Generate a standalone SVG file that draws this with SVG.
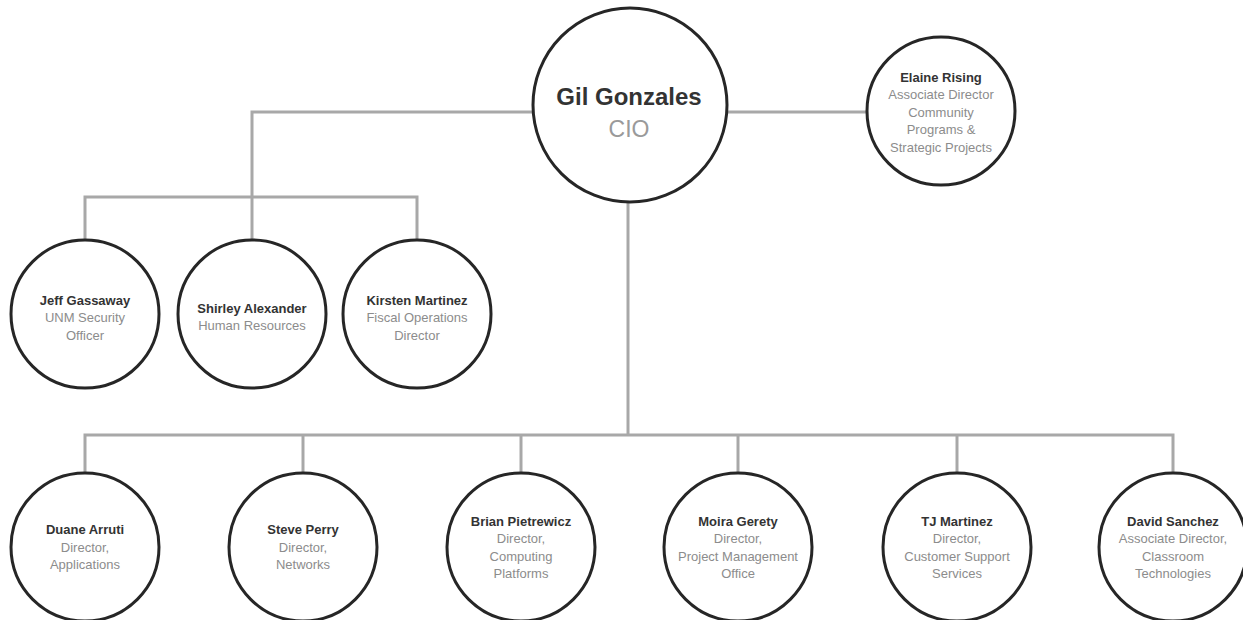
<svg xmlns="http://www.w3.org/2000/svg" width="1243" height="620" viewBox="0 0 1243 620">
  <style>
    .bg { fill: #ffffff; }
    .node { fill: #ffffff; stroke: #262626; stroke-width: 3; }
    .link { fill: none; stroke: #a8a8a8; stroke-width: 3; }
    text { font-family: "Liberation Sans", Arial, sans-serif; text-anchor: middle; }
    .name { font-size: 13px; font-weight: bold; fill: #333333; }
    .role { font-size: 13px; fill: #8c8c8c; }
    .ceo-name { font-size: 24px; font-weight: bold; fill: #333333; }
    .ceo-role { font-size: 23px; fill: #9a9a9a; }
  </style>
  <rect class="bg" x="0" y="0" width="1243" height="620"/>

  <!-- connectors -->
  <g id="connectors">
    <path class="link" d="M533 112 H252 V197"/>
    <path class="link" d="M85 240 V197 H417 V240"/>
    <path class="link" d="M252 197 V240"/>
    <path class="link" d="M727 112 H867"/>
    <path class="link" d="M628 202 V435"/>
    <path class="link" d="M85 473 V435 H1173 V473"/>
    <path class="link" d="M303 435 V473"/>
    <path class="link" d="M521 435 V473"/>
    <path class="link" d="M738 435 V473"/>
    <path class="link" d="M957 435 V473"/>
  </g>

  <!-- top level -->
  <g id="gil-gonzales">
    <circle class="node" cx="630" cy="105" r="97"/>
    <text class="ceo-name" x="629" y="105">Gil Gonzales</text>
    <text class="ceo-role" x="629" y="137">CIO</text>
  </g>

  <g id="elaine-rising">
    <circle class="node" cx="941" cy="111" r="74"/>
    <text class="name" x="941" y="82">Elaine Rising</text>
    <text class="role" x="941" y="99">Associate Director</text>
    <text class="role" x="941" y="117">Community</text>
    <text class="role" x="941" y="134">Programs &amp;</text>
    <text class="role" x="941" y="152">Strategic Projects</text>
  </g>

  <!-- staff row -->
  <g id="jeff-gassaway">
    <circle class="node" cx="85" cy="314" r="74"/>
    <text class="name" x="85" y="305">Jeff Gassaway</text>
    <text class="role" x="85" y="322">UNM Security</text>
    <text class="role" x="85" y="340">Officer</text>
  </g>

  <g id="shirley-alexander">
    <circle class="node" cx="252" cy="314" r="74"/>
    <text class="name" x="252" y="313">Shirley Alexander</text>
    <text class="role" x="252" y="330">Human Resources</text>
  </g>

  <g id="kirsten-martinez">
    <circle class="node" cx="417" cy="314" r="74"/>
    <text class="name" x="417" y="305">Kirsten Martinez</text>
    <text class="role" x="417" y="322">Fiscal Operations</text>
    <text class="role" x="417" y="340">Director</text>
  </g>

  <!-- directors row -->
  <g id="duane-arruti">
    <circle class="node" cx="85" cy="547" r="74"/>
    <text class="name" x="85" y="534">Duane Arruti</text>
    <text class="role" x="85" y="552">Director,</text>
    <text class="role" x="85" y="569">Applications</text>
  </g>

  <g id="steve-perry">
    <circle class="node" cx="303" cy="547" r="74"/>
    <text class="name" x="303" y="534">Steve Perry</text>
    <text class="role" x="303" y="552">Director,</text>
    <text class="role" x="303" y="569">Networks</text>
  </g>

  <g id="brian-pietrewicz">
    <circle class="node" cx="521" cy="547" r="74"/>
    <text class="name" x="521" y="526">Brian Pietrewicz</text>
    <text class="role" x="521" y="543">Director,</text>
    <text class="role" x="521" y="561">Computing</text>
    <text class="role" x="521" y="578">Platforms</text>
  </g>

  <g id="moira-gerety">
    <circle class="node" cx="738" cy="547" r="74"/>
    <text class="name" x="738" y="526">Moira Gerety</text>
    <text class="role" x="738" y="543">Director,</text>
    <text class="role" x="738" y="561">Project Management</text>
    <text class="role" x="738" y="578">Office</text>
  </g>

  <g id="tj-martinez">
    <circle class="node" cx="957" cy="547" r="74"/>
    <text class="name" x="957" y="526">TJ Martinez</text>
    <text class="role" x="957" y="543">Director,</text>
    <text class="role" x="957" y="561">Customer Support</text>
    <text class="role" x="957" y="578">Services</text>
  </g>

  <g id="david-sanchez">
    <circle class="node" cx="1173" cy="547" r="74"/>
    <text class="name" x="1173" y="526">David Sanchez</text>
    <text class="role" x="1173" y="543">Associate Director,</text>
    <text class="role" x="1173" y="561">Classroom</text>
    <text class="role" x="1173" y="578">Technologies</text>
  </g>
</svg>
